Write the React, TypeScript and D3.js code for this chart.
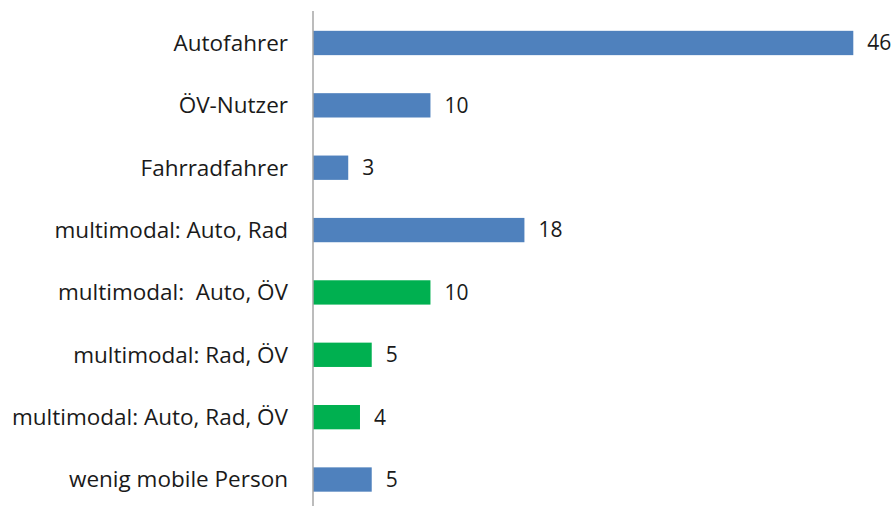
import { useEffect, useRef } from "react";
import * as d3 from "d3";

const categories = [
  "Autofahrer",
  "ÖV-Nutzer",
  "Fahrradfahrer",
  "multimodal: Auto, Rad",
  "multimodal:  Auto, ÖV",
  "multimodal: Rad, ÖV",
  "multimodal: Auto, Rad, ÖV",
  "wenig mobile Person",
];
const values = [46, 10, 3, 18, 10, 5, 4, 5];
const highlighted = [false, false, false, false, true, true, true, false];

const App = () => {
  const svgRef = useRef<SVGSVGElement>(null);

  useEffect(() => {
    const svg = d3.select(svgRef.current);
    svg.selectAll("*").remove();

    const axisX = 313;
    const font = "'Open Sans', 'Noto Sans', sans-serif";

    const yScale = d3
      .scaleBand()
      .domain(categories)
      .range([11.8, 510.7])
      .paddingInner(0.61)
      .paddingOuter(0.305);

    const xScale = d3.scaleLinear().domain([0, 46]).range([axisX, 853.3]);

    const data = categories.map((name, i) => ({
      name,
      value: values[i],
      green: highlighted[i],
    }));

    svg
      .selectAll(".bar")
      .data(data)
      .enter()
      .append("rect")
      .attr("class", "bar")
      .attr("x", xScale(0))
      .attr("y", (d) => yScale(d.name)!)
      .attr("width", (d) => xScale(d.value) - xScale(0))
      .attr("height", yScale.bandwidth())
      .attr("fill", (d) => (d.green ? "#00B050" : "#4F81BD"));

    svg
      .append("line")
      .attr("x1", axisX)
      .attr("x2", axisX)
      .attr("y1", 11)
      .attr("y2", 506)
      .attr("stroke", "#a6a6a6")
      .attr("stroke-width", 1.5);

    svg
      .selectAll(".cat-label")
      .data(data)
      .enter()
      .append("text")
      .attr("class", "cat-label")
      .attr("x", axisX - 25)
      .attr("y", (d) => yScale(d.name)! + yScale.bandwidth() / 2)
      .attr("dy", "0.35em")
      .attr("text-anchor", "end")
      .style("font-family", font)
      .style("font-size", "22.5px")
      .style("white-space", "pre")
      .attr("fill", "#1a1a1a")
      .text((d) => d.name);

    svg
      .selectAll(".val-label")
      .data(data)
      .enter()
      .append("text")
      .attr("class", "val-label")
      .attr("x", (d) => xScale(d.value) + 14)
      .attr("y", (d) => yScale(d.name)! + yScale.bandwidth() / 2)
      .attr("dy", "0.35em")
      .style("font-family", font)
      .style("font-size", "21px")
      .attr("fill", "#1a1a1a")
      .text((d) => d.value);
  }, []);

  return (
    <svg
      ref={svgRef}
      width={895}
      height={506}
      style={{ position: "absolute", left: 0, top: 0, background: "#fff" }}
    ></svg>
  );
};

export default App;
